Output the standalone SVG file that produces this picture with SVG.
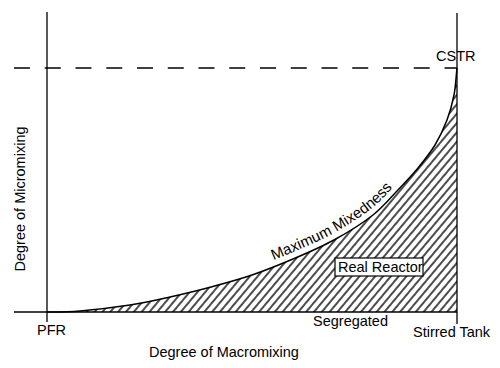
<svg xmlns="http://www.w3.org/2000/svg" width="500" height="368" viewBox="0 0 500 368">
<style>
  .ax { stroke: #000; stroke-width: 1.3; fill: none; }
  .crv { stroke: #000; stroke-width: 1.5; fill: none; }
  .t { font-family: "Liberation Sans", Arial, sans-serif; font-size: 14.5px; fill: #000; }
</style>
<defs>
  <pattern id="hatch" patternUnits="userSpaceOnUse" width="6" height="20" patternTransform="rotate(40)">
    <line x1="3" y1="-1" x2="3" y2="21" stroke="#000" stroke-width="1.4"/>
  </pattern>
  <path id="curvePath" d="M47,312 C58,312 66.2,312.2 80,311 C93.8,309.8 115,307.3 130,305 C145,302.7 156.5,300 170,297 C183.5,294 197.3,290.7 211,287 C224.7,283.3 238.3,279.7 252,275 C265.7,270.3 279.3,264.8 293,259 C306.7,253.2 320.7,247.3 334,240 C347.3,232.7 362.5,223.2 373,215 C383.5,206.8 389.5,198.8 397,191 C404.5,183.2 411.7,175.7 418,168 C424.3,160.3 430.2,153 435,145 C439.8,137 443.8,128.3 447,120 C450.2,111.7 452.3,103.7 454,95 C455.7,86.3 456,77 457,68"/>
  <path id="labelPath" d="M250,269 C263.7,264.3 277.3,258.8 291,253 C304.7,247.2 318.7,241.3 332,234 C345.3,226.7 360.5,217.2 371,209 C381.5,200.8 387.5,192.8 395,185 C402.5,177.2 409.7,169.7 416,162"/>
</defs>

<g id="region">
  <path d="M47,312 C58,312 66.2,312.2 80,311 C93.8,309.8 115,307.3 130,305 C145,302.7 156.5,300 170,297 C183.5,294 197.3,290.7 211,287 C224.7,283.3 238.3,279.7 252,275 C265.7,270.3 279.3,264.8 293,259 C306.7,253.2 320.7,247.3 334,240 C347.3,232.7 362.5,223.2 373,215 C383.5,206.8 389.5,198.8 397,191 C404.5,183.2 411.7,175.7 418,168 C424.3,160.3 430.2,153 435,145 C439.8,137 443.8,128.3 447,120 C450.2,111.7 452.3,103.7 454,95 C455.7,86.3 456,77 457,68 L457,312 Z" fill="url(#hatch)" stroke="none"/>
</g>

<g id="connectors">
  <line class="ax" x1="47" y1="12" x2="47" y2="322"/>
  <line class="ax" x1="457" y1="13" x2="457" y2="324"/>
  <line class="ax" x1="14" y1="312" x2="457" y2="312"/>
  <line class="ax" x1="14" y1="68" x2="457" y2="68" stroke-dasharray="16 14.75"/>
  <use href="#curvePath" class="crv"/>
</g>

<g id="cstr"><text class="t" x="436" y="61">CSTR</text></g>
<g id="pfr"><text class="t" x="37" y="335">PFR</text></g>
<g id="stirred-tank"><text class="t" x="413" y="337">Stirred Tank</text></g>
<g id="segregated"><text class="t" x="313" y="326">Segregated</text></g>
<g id="x-label"><text class="t" x="149" y="357">Degree of Macromixing</text></g>
<g id="y-label"><text class="t" x="0" y="0" text-anchor="middle" transform="translate(25,199) rotate(-90)">Degree of Micromixing</text></g>
<g id="max-mixedness"><text class="t" style="font-size:15px"><textPath href="#labelPath" startOffset="25">Maximum Mixedness</textPath></text></g>
<g id="real-reactor">
  <rect x="335" y="258" width="88" height="18" fill="#fff" stroke="#000" stroke-width="1.2"/>
  <text class="t" x="338" y="271.5">Real Reactor</text>
</g>
</svg>
